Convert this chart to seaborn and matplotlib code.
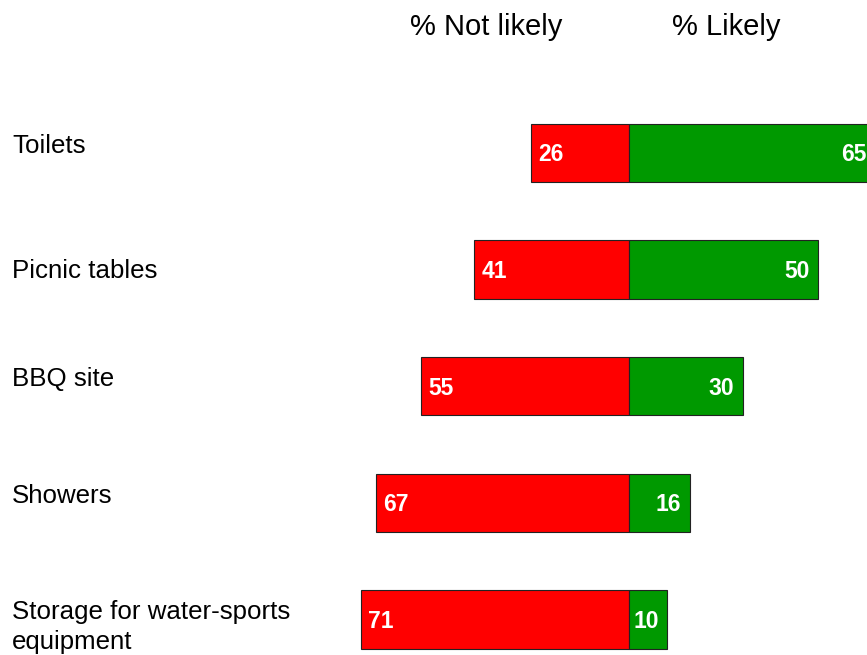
import numpy as np
import pandas as pd
import matplotlib
matplotlib.use('Agg')
import matplotlib.pyplot as plt
import matplotlib.transforms as mtransforms
import seaborn as sns

# data
categories = ['Toilets', 'Picnic tables', 'BBQ site', 'Showers',
              'Storage for water-sports\nequipment']
not_likely = [26, 41, 55, 67, 71]
likely = [65, 50, 30, 16, 10]

sns.set_style('white')
plt.rcParams['font.family'] = ['Liberation Sans', 'DejaVu Sans']

df = pd.DataFrame({'cat': categories,
                   'not_likely': -np.array(not_likely),
                   'likely': likely})

fig = plt.figure(figsize=(8.67, 6.55), dpi=100)
ax = fig.add_axes([0, 0, 1, 1])

red = '#FF0000'
green = '#009900'
edge = '#222222'

sns.barplot(data=df, x='not_likely', y='cat', orient='h', color=red,
            saturation=1, width=0.5, edgecolor=edge, linewidth=0.8, ax=ax)
sns.barplot(data=df, x='likely', y='cat', orient='h', color=green,
            saturation=1, width=0.5, edgecolor=edge, linewidth=0.8, ax=ax)

# zero at ~629px, ~3.78 px per percent
ax.set_xlim(-166.5, 62.9)
ax.set_ylim(4.305, -1.312)
ax.axis('off')

# value labels inside the bars
for i, (n, l) in enumerate(zip(not_likely, likely)):
    ax.annotate(str(n), xy=(-n, i), xytext=(5, -6), textcoords='offset points',
                ha='left', va='baseline', color='white', fontsize=16.5,
                fontweight='bold', annotation_clip=False)
    ax.annotate(str(l), xy=(l, i), xytext=(-6, -6), textcoords='offset points',
                ha='right', va='baseline', color='white', fontsize=16.5,
                fontweight='bold', annotation_clip=False)

# category labels on the left
label_dy = [0, -6, 0, 0, 0]
trans = mtransforms.blended_transform_factory(ax.transAxes, ax.transData)
for i, (c, dy) in enumerate(zip(categories, label_dy)):
    for k, line in enumerate(c.split('\n')):
        ax.annotate(line, xy=(12 / 867, i), xycoords=trans,
                    xytext=(0, dy - 21 * k), textcoords='offset points',
                    ha='left', va='baseline', fontsize=18.6, color='black',
                    annotation_clip=False)

# column headers
htrans = mtransforms.blended_transform_factory(ax.transData, ax.transAxes)
ax.text(-37.9, 1 - 35 / 655, '% Not likely', transform=htrans, ha='center',
        va='baseline', fontsize=21, color='black')
ax.text(25.6, 1 - 35 / 655, '% Likely', transform=htrans, ha='center',
        va='baseline', fontsize=21, color='black')

fig.savefig('out.png', dpi=100, facecolor='white')
